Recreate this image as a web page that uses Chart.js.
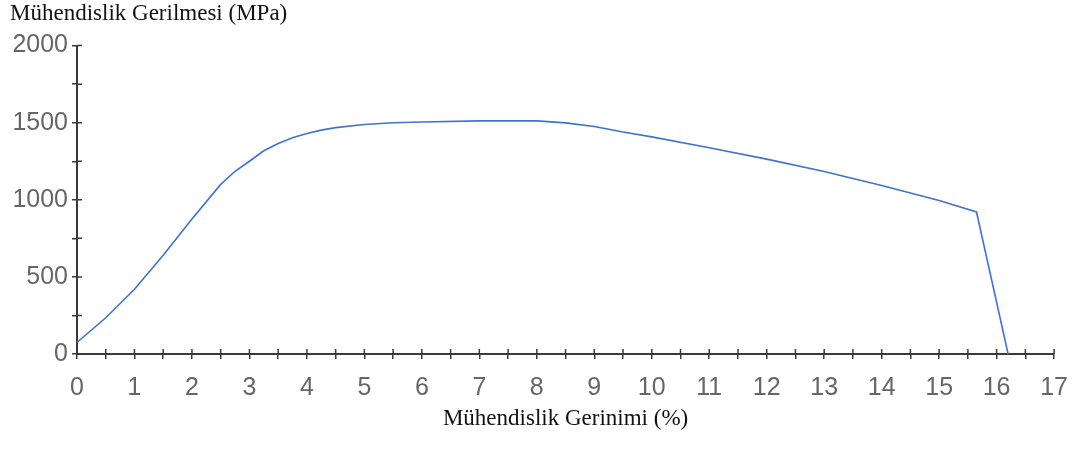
<!DOCTYPE html>
<html>
<head>
<meta charset="utf-8">
<script src="https://cdn.jsdelivr.net/npm/chart.js@4.4.1/dist/chart.umd.min.js"></script>
<style>
  html, body { margin: 0; padding: 0; background: #fff; }
  #wrap { width: 1082px; height: 454px; }
</style>
</head>
<body>
<div id="wrap"><canvas id="gerilme-grafik"></canvas></div>
<script>
// okunan degerler (gerinim %, gerilme MPa)
const gerinim = [0, 0.5, 1, 1.5, 2, 2.5, 2.75, 3, 3.25, 3.5, 3.75, 4, 4.25, 4.5, 5, 5.5, 6, 7, 8, 8.5, 9, 9.5, 10, 11, 12, 13, 14, 15, 15.65, 16.2];
const gerilme = [75, 235, 420, 640, 875, 1100, 1185, 1250, 1318, 1365, 1402, 1430, 1452, 1468, 1488, 1500, 1505, 1512, 1512, 1499, 1475, 1440, 1408, 1338, 1264, 1184, 1093, 995, 921, 0];
const xEtiketleri = [0, 1, 2, 3, 4, 5, 6, 7, 8, 9, 10, 11, 12, 13, 14, 15, 16, 17];
const yEtiketleri = [0, 500, 1000, 1500, 2000];

const eksenRengi = '#3a3a3a';
const etiketRengi = '#666666';

// eksen cizgisinin ic tarafina da kisa cizgi (capraz tik)
const caprazTik = {
  id: 'caprazTik',
  afterDraw(chart) {
    const c = chart.ctx, a = chart.chartArea;
    const x = chart.scales.x, y = chart.scales.y;
    c.save();
    c.strokeStyle = eksenRengi;
    c.lineWidth = 1.5;
    c.beginPath();
    x.ticks.forEach(t => {
      const px = x.getPixelForValue(t.value);
      c.moveTo(px, a.bottom - 5);
      c.lineTo(px, a.bottom);
    });
    y.ticks.forEach(t => {
      const py = y.getPixelForValue(t.value);
      c.moveTo(a.left, py);
      c.lineTo(a.left + 5, py);
    });
    c.stroke();
    c.restore();
  }
};

const ctx = document.getElementById('gerilme-grafik');
new Chart(ctx, {
  type: 'line',
  data: {
    datasets: [{
      label: 'Gerilme',
      data: gerinim.map((g, i) => ({ x: g, y: gerilme[i] })),
      borderColor: '#4272cf',
      borderWidth: 1.6,
      pointRadius: 0,
      tension: 0,
      fill: false
    }]
  },
  options: {
    responsive: true,
    maintainAspectRatio: false,
    animation: false,
    layout: { padding: { left: 10, right: 25, top: 0, bottom: 0 } },
    scales: {
      x: {
        type: 'linear',
        min: 0,
        max: 17,
        afterFit: s => { s.height = 100; },
        ticks: {
          stepSize: 0.5,
          autoSkip: false,
          maxRotation: 0,
          padding: 14,
          color: etiketRengi,
          font: { family: 'Liberation Sans', size: 25 },
          callback: v => (xEtiketleri.includes(v) ? String(v) : '')
        },
        grid: { drawOnChartArea: false, drawTicks: true, tickLength: 5, color: eksenRengi, lineWidth: 1.5 },
        border: { display: true, color: eksenRengi, width: 2 },
        title: {
          display: true,
          text: 'Mühendislik Gerinimi (%)',
          color: '#111',
          font: { family: 'Liberation Serif', size: 23 },
          padding: { top: 0, bottom: 21 }
        }
      },
      y: {
        min: 0,
        max: 2000,
        afterFit: s => { s.width = 67; },
        ticks: {
          stepSize: 250,
          autoSkip: false,
          padding: 4,
          color: etiketRengi,
          font: { family: 'Liberation Sans', size: 25 },
          callback: v => (yEtiketleri.includes(v) ? String(v) : '')
        },
        grid: { drawOnChartArea: false, drawTicks: true, tickLength: 5, color: eksenRengi, lineWidth: 1.5 },
        border: { display: true, color: eksenRengi, width: 2 }
      }
    },
    plugins: {
      legend: { display: false },
      tooltip: { enabled: false },
      title: {
        display: true,
        text: 'Mühendislik Gerilmesi (MPa)',
        align: 'start',
        color: '#111',
        font: { family: 'Liberation Serif', size: 23, weight: 'normal' },
        padding: { top: 0, bottom: 18 }
      }
    }
  },
  plugins: [caprazTik]
});
</script>
</body>
</html>
